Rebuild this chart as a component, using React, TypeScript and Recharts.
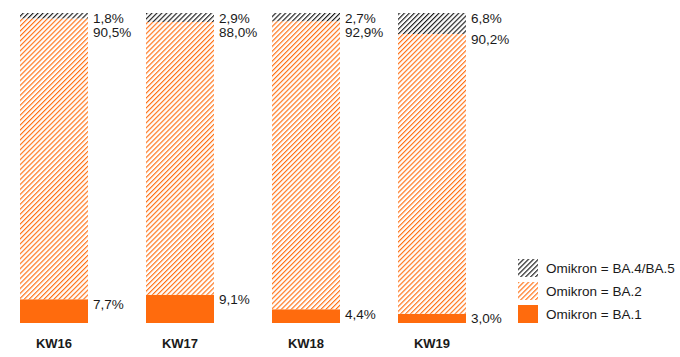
import { Bar, BarChart, LabelList, XAxis, YAxis } from "recharts";

const weeks = ["KW16", "KW17", "KW18", "KW19"];
const ba1 = [7.7, 9.1, 4.4, 3.0];
const ba2 = [90.5, 88.0, 92.9, 90.2];
const ba45 = [1.8, 2.9, 2.7, 6.8];

const SERIES = [
  { key: "ba45", name: "Omikron = BA.4/BA.5" },
  { key: "ba2", name: "Omikron = BA.2" },
  { key: "ba1", name: "Omikron = BA.1" },
];

const data = weeks.map((week, i) => ({ week, ba1: ba1[i], ba2: ba2[i], ba45: ba45[i] }));

const FONT = "'Liberation Sans', Arial, sans-serif";
const TEXT = "#1a1a1a";
const ORANGE = "#ff6b0d";
const HATCH_ORANGE = "#ff6f12";
const PLOT_TOP = 13;

const fmt = (v: number) => v.toFixed(1).replace(".", ",") + "%";

function makeLabel(kind: "top" | "mid" | "bottom") {
  return (props: any) => {
    const { x, y, width, value } = props;
    let ty = Number(y) + 5;
    if (kind === "mid") ty = Math.max(ty, PLOT_TOP + 5 + 14);
    return (
      <text
        x={Number(x) + Number(width) + 5}
        y={ty}
        dominantBaseline="central"
        fontSize={13.5}
        fontFamily={FONT}
        fill={TEXT}
      >
        {fmt(Number(value))}
      </text>
    );
  };
}

function WeekTick({ x, y, payload }: any) {
  return (
    <text x={x} y={y + 17} textAnchor="middle" fontSize={13} fontWeight="bold" fontFamily={FONT} fill={TEXT}>
      {payload.value}
    </text>
  );
}

function Hatch({ id, color }: { id: string; color: string }) {
  return (
    <pattern id={id} patternUnits="userSpaceOnUse" width={3.5} height={3.5} patternTransform="rotate(45)">
      <rect width={3.5} height={3.5} fill="#fff" />
      <line x1={0} y1={0} x2={0} y2={3.5} stroke={color} strokeWidth={2.3} />
    </pattern>
  );
}

function LegendBox() {
  return (
    <div style={{ position: "absolute", left: 518, top: 259, fontFamily: FONT, fontSize: 13.5, color: TEXT }}>
      {SERIES.map((s) => (
        <div key={s.key} style={{ display: "flex", alignItems: "center", height: 18, marginBottom: 5 }}>
          <svg width={20} height={18} style={{ marginRight: 8 }}>
            <defs>
              <Hatch id={`lg-${s.key}`} color={s.key === "ba45" ? TEXT : HATCH_ORANGE} />
            </defs>
            <rect width={20} height={18} fill={s.key === "ba1" ? ORANGE : `url(#lg-${s.key})`} />
          </svg>
          <span>{s.name}</span>
        </div>
      ))}
    </div>
  );
}

export default function App() {
  return (
    <div style={{ position: "relative", width: 680, height: 357, background: "#fff", overflow: "hidden" }}>
      <style>{"body{margin:0}"}</style>
      <div style={{ position: "absolute", left: -9, top: 0 }}>
        <BarChart width={689} height={357} data={data} margin={{ top: PLOT_TOP, right: 185, left: 0, bottom: 0 }} barCategoryGap={29}>
          <defs>
            <Hatch id="hatchOrange" color={HATCH_ORANGE} />
            <Hatch id="hatchBlack" color={TEXT} />
          </defs>
          <XAxis dataKey="week" axisLine={false} tickLine={false} height={34} tick={<WeekTick />} interval={0} />
          <YAxis hide domain={[0, 100]} />
          <Bar dataKey="ba1" stackId="a" fill={ORANGE} isAnimationActive={false}>
            <LabelList dataKey="ba1" content={makeLabel("bottom")} />
          </Bar>
          <Bar dataKey="ba2" stackId="a" fill="url(#hatchOrange)" isAnimationActive={false}>
            <LabelList dataKey="ba2" content={makeLabel("mid")} />
          </Bar>
          <Bar dataKey="ba45" stackId="a" fill="url(#hatchBlack)" isAnimationActive={false}>
            <LabelList dataKey="ba45" content={makeLabel("top")} />
          </Bar>
        </BarChart>
      </div>
      <LegendBox />
    </div>
  );
}
